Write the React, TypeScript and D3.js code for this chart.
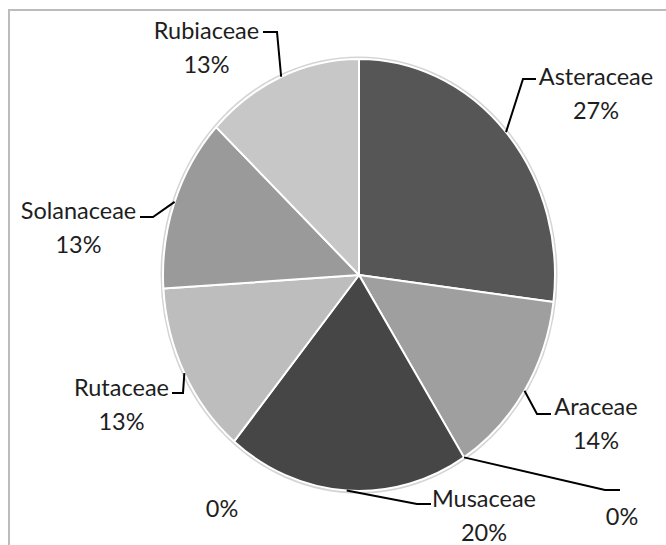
import React from "react";
import * as d3 from "d3";

// Plant families and their share (%) of the recorded species
const families = ["Asteraceae", "Araceae", "", "Musaceae", "", "Rutaceae", "Solanaceae", "Rubiaceae"];
const shares = [27, 14, 0, 20, 0, 13, 13, 13];
const sliceFills = ["#565656", "#9f9f9f", "#8a8a8a", "#464646", "#bdbdbd", "#bdbdbd", "#9a9a9a", "#c7c7c7"];

// Label placement: centre x, baseline of first line, leader elbow and tail
type LabelLayout = { x: number; y: number; leader: null | { ex: number; ey: number; tx: number } };
const labelLayout: LabelLayout[] = [
  { x: 596, y: 85, leader: { ex: 523, ey: 79, tx: 536 } },
  { x: 596, y: 415, leader: { ex: 537, ey: 414, tx: 551 } },
  { x: 622, y: 525, leader: { ex: 605, ey: 490, tx: 620 } },
  { x: 484, y: 507, leader: { ex: 417, ey: 504, tx: 431 } },
  { x: 222, y: 517, leader: null },
  { x: 121.5, y: 396, leader: { ex: 183, ey: 393, tx: 172 } },
  { x: 78.5, y: 219, leader: { ex: 153, ey: 217, tx: 140 } },
  { x: 206.5, y: 39, leader: { ex: 277, ey: 32, tx: 263 } },
];

const W = 666;
const H = 545;
const cx = 359;
const cy = 275;
const R = 196;
const ky = 216 / 196;

export default function App() {
  const pie = d3.pie<number>().sort(null).value((d) => d);
  const arcs = pie(shares);
  const arc = d3.arc<d3.PieArcDatum<number>>().innerRadius(0).outerRadius(R);
  const font = "Lato, 'Open Sans', sans-serif";

  return (
    <svg width={W} height={H} style={{ position: "absolute", left: 0, top: 0, background: "#fff" }}>
      <rect x={9} y={10} width={W + 20} height={H + 20} fill="#fff" stroke="#bcbcbc" strokeWidth={2} />
      <g transform={`translate(${cx},${cy}) scale(1,${ky})`}>
        <circle r={R + 1} fill="none" stroke="#d4d4d4" strokeWidth={3} vectorEffect="non-scaling-stroke" />
        {arcs.map((a, i) =>
          a.value > 0 ? (
            <path
              key={i}
              d={arc(a) || ""}
              fill={sliceFills[i]}
              stroke="#fff"
              strokeWidth={2}
              strokeLinejoin="round"
              vectorEffect="non-scaling-stroke"
            />
          ) : null
        )}
      </g>
      {arcs.map((a, i) => {
        const lay = labelLayout[i];
        const mid = (a.startAngle + a.endAngle) / 2;
        const axp = cx + R * Math.sin(mid);
        const ayp = cy - R * ky * Math.cos(mid);
        const pct = `${shares[i]}%`;
        return (
          <g key={i}>
            {lay.leader && (
              <polyline
                points={`${axp},${ayp} ${lay.leader.ex},${lay.leader.ey} ${lay.leader.tx},${lay.leader.ey}`}
                fill="none"
                stroke="#000"
                strokeWidth={2}
              />
            )}
            <text
              x={lay.x}
              y={lay.y}
              textAnchor="middle"
              fontFamily={font}
              fontSize={23.5}
              fill="#1e1e1e"
            >
              {families[i] ? (
                <>
                  <tspan x={lay.x} y={lay.y}>{families[i]}</tspan>
                  <tspan x={lay.x} y={lay.y + 34}>{pct}</tspan>
                </>
              ) : (
                <tspan x={lay.x} y={lay.y}>{pct}</tspan>
              )}
            </text>
          </g>
        );
      })}
    </svg>
  );
}
